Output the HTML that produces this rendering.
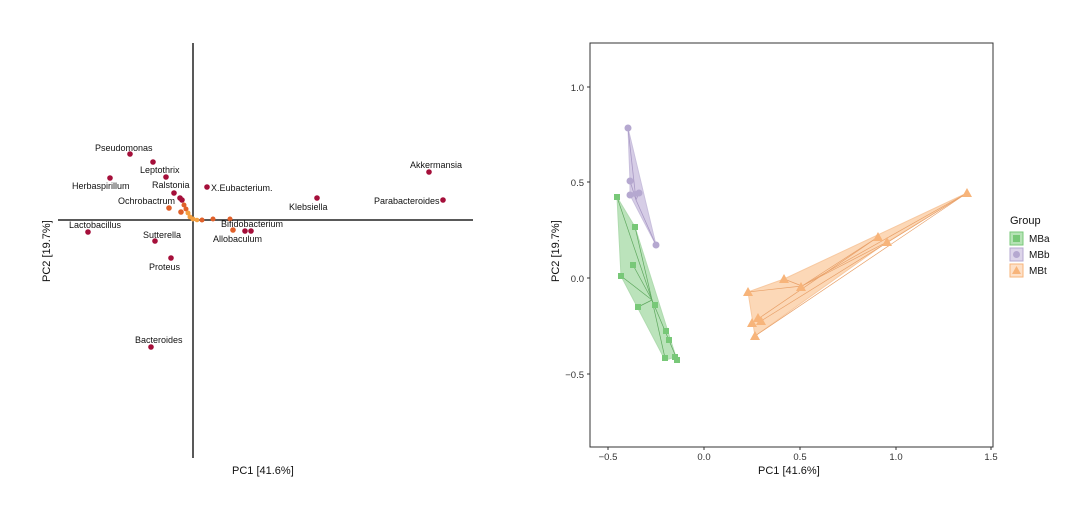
<!DOCTYPE html>
<html><head><style>body{margin:0;background:#fff}svg{display:block}text{font-family:"Liberation Sans",sans-serif}</style></head><body>
<svg width="1080" height="519" viewBox="0 0 1080 519">
<rect width="1080" height="519" fill="#fff"/>
<!-- LEFT -->
<line x1="193" y1="43" x2="193" y2="458" stroke="#222" stroke-width="1.5"/>
<line x1="58" y1="220" x2="473" y2="220" stroke="#222" stroke-width="1.5"/>
<g fill="#a50f3a">
<circle cx="130" cy="154" r="2.8"/><circle cx="153" cy="162" r="2.8"/><circle cx="110" cy="178" r="2.8"/>
<circle cx="166" cy="177" r="2.8"/><circle cx="174" cy="193" r="2.8"/><circle cx="207" cy="187" r="2.8"/>
<circle cx="317" cy="198" r="2.8"/><circle cx="429" cy="172" r="2.8"/><circle cx="443" cy="200" r="2.8"/>
<circle cx="88" cy="232" r="2.8"/><circle cx="155" cy="241" r="2.8"/><circle cx="171" cy="258" r="2.8"/>
<circle cx="151" cy="347" r="2.8"/><circle cx="245" cy="231" r="2.8"/><circle cx="251" cy="231" r="2.8"/>
<circle cx="180" cy="198" r="2.8"/><circle cx="182" cy="200" r="2.8"/>
</g>
<g fill="#e0602a">
<circle cx="169" cy="208" r="2.8"/><circle cx="181" cy="212" r="2.8"/><circle cx="184" cy="205" r="2.5"/>
<circle cx="186" cy="209" r="2.5"/><circle cx="230" cy="219" r="2.5"/><circle cx="233" cy="230" r="2.8"/>
<circle cx="213" cy="219" r="2.5"/><circle cx="202" cy="220" r="2.5"/>
</g>
<g fill="#f4a040"><circle cx="188" cy="213" r="2.5"/><circle cx="190" cy="217" r="2.5"/><circle cx="193" cy="219" r="2.5"/><circle cx="197" cy="220" r="2.3"/></g>
<g font-size="9" fill="#111">
<text x="95" y="151">Pseudomonas</text><text x="140" y="173">Leptothrix</text>
<text x="72" y="189">Herbaspirillum</text><text x="152" y="188">Ralstonia</text>
<text x="118" y="204">Ochrobactrum</text><text x="211" y="191">X.Eubacterium.</text>
<text x="289" y="210">Klebsiella</text><text x="410" y="168">Akkermansia</text>
<text x="374" y="204">Parabacteroides</text><text x="69" y="228">Lactobacillus</text>
<text x="143" y="238">Sutterella</text><text x="221" y="227">Bifidobacterium</text>
<text x="213" y="242">Allobaculum</text><text x="149" y="270">Proteus</text>
<text x="135" y="343">Bacteroides</text>
</g>
<text x="232" y="474" font-size="11" fill="#111">PC1 [41.6%]</text>
<text transform="translate(50,282) rotate(-90)" font-size="11" fill="#111">PC2 [19.7%]</text>
<!-- RIGHT -->
<rect x="590" y="43" width="403" height="404" fill="none" stroke="#333" stroke-width="1"/>
<g stroke="#333"><line x1="608" y1="447" x2="608" y2="450"/><line x1="704" y1="447" x2="704" y2="450"/><line x1="800" y1="447" x2="800" y2="450"/><line x1="896" y1="447" x2="896" y2="450"/><line x1="991" y1="447" x2="991" y2="450"/>
<line x1="587" y1="87" x2="590" y2="87"/><line x1="587" y1="182" x2="590" y2="182"/><line x1="587" y1="278" x2="590" y2="278"/><line x1="587" y1="374" x2="590" y2="374"/></g>
<g font-size="9.5" fill="#333" text-anchor="middle"><text x="608" y="460">−0.5</text><text x="704" y="460">0.0</text><text x="800" y="460">0.5</text><text x="896" y="460">1.0</text><text x="991" y="460">1.5</text></g>
<g font-size="9.5" fill="#333" text-anchor="end"><text x="584" y="91">1.0</text><text x="584" y="186">0.5</text><text x="584" y="282">0.0</text><text x="584" y="378">−0.5</text></g>
<text x="758" y="474" font-size="11" fill="#111">PC1 [41.6%]</text>
<text transform="translate(559,282) rotate(-90)" font-size="11" fill="#111">PC2 [19.7%]</text>
<!-- MBb -->
<polygon points="628,128 656,245 630,195 630,181" fill="#c5b8dc" opacity="0.7" stroke="#b3a6cf"/>
<g stroke="#a898c4" stroke-width="0.8"><line x1="636" y1="200" x2="628" y2="128"/><line x1="636" y1="200" x2="656" y2="245"/><line x1="636" y1="200" x2="630" y2="181"/><line x1="636" y1="200" x2="639" y2="193"/></g>
<g fill="#b5a8d0"><circle cx="628" cy="128" r="3.5"/><circle cx="630" cy="181" r="3.5"/><circle cx="630" cy="195" r="3.5"/><circle cx="639" cy="193" r="3.5"/><circle cx="656" cy="245" r="3.5"/><circle cx="635" cy="194" r="3"/></g>
<!-- MBa -->
<polygon points="617,197 635,227 676,357 665,360 621,276" fill="#8ed18e" opacity="0.6" stroke="#7cc47c"/>
<g stroke="#5ea85e" stroke-width="0.7"><line x1="652" y1="300" x2="617" y2="197"/><line x1="652" y1="300" x2="635" y2="227"/><line x1="652" y1="300" x2="633" y2="265"/><line x1="652" y1="300" x2="621" y2="276"/><line x1="652" y1="300" x2="665" y2="358"/><line x1="652" y1="300" x2="676" y2="357"/><line x1="652" y1="300" x2="638" y2="307"/></g>
<g fill="#78c878"><rect x="614" y="194" width="6" height="6"/><rect x="632" y="224" width="6" height="6"/><rect x="630" y="262" width="6" height="6"/><rect x="618" y="273" width="6" height="6"/><rect x="635" y="304" width="6" height="6"/><rect x="652" y="302" width="6" height="6"/><rect x="663" y="328" width="6" height="6"/><rect x="666" y="337" width="6" height="6"/><rect x="662" y="355" width="6" height="6"/><rect x="672" y="354" width="6" height="6"/><rect x="674" y="357" width="6" height="6"/></g>
<!-- MBt -->
<polygon points="967,193 887,242 755,336 748,292 784,279" fill="#fbc89a" opacity="0.7" stroke="#f5b37a"/>
<g stroke="#e8a068" stroke-width="0.7"><line x1="802" y1="286" x2="967" y2="193"/><line x1="802" y1="286" x2="878" y2="237"/><line x1="802" y1="286" x2="887" y2="242"/><line x1="802" y1="286" x2="784" y2="279"/><line x1="802" y1="286" x2="748" y2="292"/><line x1="967" y1="193" x2="755" y2="336"/><line x1="967" y1="193" x2="761" y2="321"/><line x1="878" y1="237" x2="752" y2="323"/></g>
<g fill="#f7b47a"><polygon points="967,188 972,197 962,197"/><polygon points="878,232 883,241 873,241"/><polygon points="887,237 892,246 882,246"/><polygon points="784,274 789,283 779,283"/><polygon points="801,282 806,291 796,291"/><polygon points="748,287 753,296 743,296"/><polygon points="752,318 757,327 747,327"/><polygon points="761,316 766,325 756,325"/><polygon points="755,331 760,340 750,340"/><polygon points="758,313 763,322 753,322"/></g>
<!-- legend -->
<text x="1010" y="224" font-size="11" fill="#111">Group</text>
<rect x="1010" y="232" width="13" height="13" fill="#b6e3b6" stroke="#78c878"/><rect x="1013" y="235" width="7" height="7" fill="#78c878"/>
<rect x="1010" y="248" width="13" height="13" fill="#ddd5ea" stroke="#b5a8d0"/><circle cx="1016.5" cy="254.5" r="3.5" fill="#b5a8d0"/>
<rect x="1010" y="264" width="13" height="13" fill="#fde0c8" stroke="#f7b47a"/><polygon points="1016.5,266 1021,274 1012,274" fill="#f7b47a"/>
<g font-size="10" fill="#111"><text x="1029" y="242">MBa</text><text x="1029" y="258">MBb</text><text x="1029" y="274">MBt</text></g>
</svg>
</body></html>
